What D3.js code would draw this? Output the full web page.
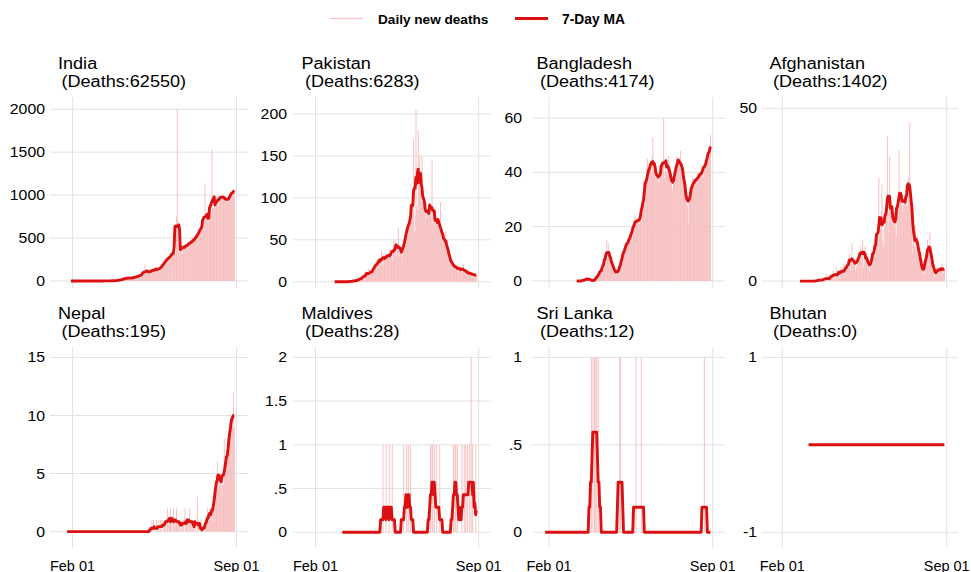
<!DOCTYPE html>
<html>
<head>
<meta charset="utf-8">
<script src="https://cdn.jsdelivr.net/npm/d3@7"></script>
<style>
  body { margin: 0; background: #fff; }
  svg { font-family: "Liberation Sans", Arial, sans-serif; }
</style>
</head>
<body>
<svg id="chart" width="971" height="572"></svg>
<script>
// ---- data ----
var countries = ["India", "Pakistan", "Bangladesh", "Afghanistan", "Nepal", "Maldives", "Sri Lanka", "Bhutan"];
var totalDeaths = [62550, 6283, 4174, 1402, 195, 28, 12, 0];
var firstDays = ["2020-01-30", "2020-02-26", "2020-03-08", "2020-02-24", "2020-01-25", "2020-03-07", "2020-01-27", "2020-03-06"];
var lastDay = "2020-08-29";
var xTicks = ["2020-02-01", "2020-09-01"];

// daily new deaths, one value per day from the country's first day
var indiaDaily = [
  0,0,0,0,0,0,0,0,0,0, 0,0,0,0,0,0,0,0,0,0, 0,0,0,0,0,0,0,0,0,0, 0,0,0,0,0,0,0,0,0,0, 0,
  0,1,1,0,0,0,1, 0,1,1,0,3,2,1, 2,3,4,2,4,2,9, 5,12,14,10,13,19,15,
  20,30,33,40,30,35,30, 38,28,35,37,31,36,50, 44,49,37,56,46,60,58, 73,67,77,72,79,83,195,
  126,90,103,95,111,97,122, 136,100,104,120,157,120,134, 140,132,148,142,119,154,146,
  170,180,200,210,220,225,230, 260,270,275,290,280,265,300, 320,350,380,330,310,750,2003,
  340,370,330,380,400,420,310, 420,400,410,380,420,410,420, 440,420,460,480,430,460,470,
  480,490,510,520,550,500,560, 600,590,610,680,660,600,680, 1130,720,740,700,690,700,760,
  780,800,1530,860,850,880,900, 910,930,880,1000,950,980,960, 940,1000,990,1010,960,980,940,
  900,930,950,980,1000,960,1000, 1030,1060,1070,1050
];
var pakistanDaily = [
  0,0,0,0,0,0,0,0,0,0, 0,0,0,0,0,0,0,0,0,0, 0,
  1,1,0,1,0,1,3, 0,2,1,3,0,5,3, 6,5,3,2,11,8,11, 6,9,15,11,7,10,12,
  11,15,17,13,22,19,27, 19,24,20,24,28,37,18, 34,22,29,33,28,29,30, 32,28,38,35,29,24,40,
  50,39,36,42,31,46,64, 30,38,42,33,28,35,40, 48,55,60,58,62,70,65, 75,80,72,85,90,170,60,
  80,205,90,85,180,120,150, 110,95,150,100,90,85,80, 95,75,85,80,85,90,80, 75,145,70,80,75,70,80,
  72,68,75,70,60,95,50, 58,45,55,50,45,60,40, 50,35,30,28,25,28,20, 22,18,20,16,18,15,20,
  16,14,12,18,15,14,12, 20,13,15,11,12,10,9, 11,13,8,10,9,10,7, 8,9,8,7
];
var bangladeshDaily = [
  0,0,0,0,0,0,0, 0,0,0,1,0,1,0, 1,1,1,0,1,0,0, 0,0,0,1,0,1,2, 3,3,1,5,3,6,4,
  4,10,7,9,15,8,14, 10,9,9,8,6,5,4, 5,3,4,2,3,2,5, 4,6,8,9,8,11,12, 14,11,13,15,14,16,15,
  16,18,16,21,20,21,24, 21,22,23,22,21,23,24, 22,25,30,37,28,35,32, 42,45,37,42,38,44,40,
  46,53,42,40,43,38,41, 37,39,36,38,39,40,43, 42,60,38,42,40,40,44, 46,44,42,38,36,33,34,
  36,38,40,42,46,43,44, 44,45,48,40,41,42,40, 38,35,32,30,28,21,30, 33,32,35,34,38,36,35,
  37,38,36,40,37,39,38, 39,41,40,42,38,43,44, 45,42,44,46,48,50,54
];
var afghanistanDaily = [
  0,0,0,0,0,0,0,0,0,0, 0,0,0,0,0,0,0,0,0,0, 0,
  0,0,0,1,0,0,1, 0,0,0,1,0,1,2, 0,1,0,1,0,2,1, 2,3,1,2,0,4,1, 2,3,1,3,4,2,3,
  2,5,1,4,3,6,5, 4,8,3,6,11,4,7, 6,5,3,4,7,5,8, 7,10,6,9,12,4,8, 10,7,8,6,4,5,3,
  6,4,5,7,9,11,13, 7,10,14,9,30,13,15, 20,28,12,10,16,15,20, 18,42,14,20,36,22,17,
  21,18,17,20,15,17,13, 20,25,38,22,24,26,23, 20,22,25,24,21,26,22, 30,24,46,28,20,22,8,
  14,10,16,12,9,13,11, 10,8,6,4,3,2,3, 2,4,6,9,12,8,10, 14,6,10,8,3,2,1, 3,2,4,3,2,4,3,
  4,3,5,2,4,3
];
var nepalDaily = [
  0,0,0,0,0,0,0,0,0,0, 0,0,0,0,0,0,0,0,0,0, 0,0,0,0,0,0,0,0,0,0, 0,0,0,0,0,0,0,0,0,0,
  0,0,0,0,0,0,0,0,0,0, 0,0,0,0,0,0,0,0,0,0, 0,0,0,0,0,0,0,0,0,0, 0,0,0,0,0,0,0,0,0,0,
  0,0,0,0,0,0,0,0,0,0, 0,0,0,0,0,0,0,0,0,0, 0,0,0,0,0,0,0,
  0,0,0,1,0,1,0, 0,0,1,0,0,1,0, 1,0,1,0,0,1,1, 1,0,2,1,0,1,2, 1,1,0,2,1,0,1,
  2,1,0,1,1,0,1, 1,0,1,0,2,0,1, 1,1,0,2,1,1,0, 1,1,0,1,0,0,3, 0,1,0,0,1,0,0,
  0,0,1,0,1,2,1, 1,2,1,2,2,1,2, 3,2,4,5,6,5,5, 4,5,4,3,5,4,8, 5,5,6,6,8,7,9,
  9,10,10,9,12,9
];
// small counts: the dates of each death
var maldivesDeathDates = [
  "2020-04-29", "2020-05-03", "2020-05-07", "2020-05-11", "2020-05-26", "2020-05-30", "2020-06-01",
  "2020-06-04", "2020-06-30", "2020-07-02", "2020-07-03", "2020-07-05", "2020-07-08", "2020-07-12",
  "2020-07-30", "2020-08-01", "2020-08-02", "2020-08-04", "2020-08-10", "2020-08-13", "2020-08-15",
  "2020-08-17", "2020-08-20", "2020-08-22", "2020-08-22", "2020-08-24", "2020-08-28"
];
var sriLankaDeathDates = [
  "2020-03-27", "2020-03-29", "2020-03-31", "2020-04-01", "2020-04-03", "2020-04-05",
  "2020-05-03", "2020-05-04", "2020-05-24", "2020-05-31", "2020-08-21"
];
var bhutanDeathDates = [];

var yTicks = [
  [0, 500, 1000, 1500, 2000], [0, 50, 100, 150, 200], [0, 20, 40, 60], [0, 50],
  [0, 5, 10, 15], [0, 0.5, 1, 1.5, 2], [0, 0.5, 1], [-1, 1]
];

// ---- layout ----
var cols = [
  { left: 50,    right: 248, feb: 72.5,  sep: 236.5, labelX: 45,  titleX: 58 },
  { left: 293,   right: 491, feb: 315.5, sep: 478.7, labelX: 287, titleX: 301.5 },
  { left: 532,   right: 725, feb: 549,   sep: 712.7, labelX: 522, titleX: 536.5 },
  { left: 761.5, right: 958, feb: 782.3, sep: 946.7, labelX: 757, titleX: 769.5 }
];
var rows = [
  { top: 97,  bottom: 288, title: 69 },
  { top: 347, bottom: 548, title: 319 }
];
var yDomains = [
  [-82, 2143], [-7.5, 220.3], [-2.6, 67.8], [-2.0, 53.3],
  [-1.41, 15.9], [-0.18, 2.118], [-0.09, 1.059], [-1.18, 1.118]
];
var stretch = 1.13;   // the picture's text is a bit wider than plain Arial
var barColor = "#f7bfbf", lineColor = "#dc1010", gridColor = "#e2e2e2", textColor = "#000";

var parse = d3.timeParse("%Y-%m-%d");
var fmtDay = d3.timeFormat("%Y-%m-%d");

function fromDaily(start, values) {
  return values.map(function (v, i) {
    return { date: d3.timeDay.offset(parse(start), i), value: v };
  });
}
function fromDeathDates(start, dates) {
  var counts = d3.rollup(dates, function (v) { return v.length; }, function (d) { return d; });
  return d3.timeDay.range(parse(start), d3.timeDay.offset(parse(lastDay), 1)).map(function (d) {
    return { date: d, value: counts.get(fmtDay(d)) || 0 };
  });
}
// centred 7-day mean, shorter window at the ends
function movingAverage(series, k) {
  return series.map(function (d, i) {
    var w = series.slice(Math.max(0, i - k), i + k + 1);
    return { date: d.date, value: d3.mean(w, function (e) { return e.value; }) };
  });
}

var dailySeries = [
  fromDaily(firstDays[0], indiaDaily),
  fromDaily(firstDays[1], pakistanDaily),
  fromDaily(firstDays[2], bangladeshDaily),
  fromDaily(firstDays[3], afghanistanDaily),
  fromDaily(firstDays[4], nepalDaily),
  fromDeathDates(firstDays[5], maldivesDeathDates),
  fromDeathDates(firstDays[6], sriLankaDeathDates),
  fromDeathDates(firstDays[7], bhutanDeathDates)
];

var svg = d3.select("#chart");

function addText(g, x, y, str, size, anchor, weight, sx) {
  return g.append("text")
    .attr("transform", "translate(" + x + "," + y + ") scale(" + (sx || stretch) + ",1)")
    .attr("text-anchor", anchor || "start")
    .attr("font-size", size)
    .attr("font-weight", weight || "normal")
    .attr("fill", textColor)
    .text(str);
}

function tickLabel(v) {
  return String(v).replace(/^0\./, ".");
}

countries.forEach(function (name, i) {
  var col = cols[i % 4], row = rows[Math.floor(i / 4)];
  var g = svg.append("g").attr("class", "panel");

  var x = d3.scaleTime()
    .domain([parse(xTicks[0]), parse(xTicks[1])])
    .range([col.feb, col.sep]);
  var y = d3.scaleLinear().domain(yDomains[i]).range([row.bottom, row.top]);

  // grid
  g.selectAll("line.hgrid").data(yTicks[i]).enter().append("line")
    .attr("class", "hgrid")
    .attr("x1", col.left).attr("x2", col.right)
    .attr("y1", function (d) { return y(d); }).attr("y2", function (d) { return y(d); })
    .attr("stroke", gridColor).attr("stroke-width", 1);
  g.selectAll("line.vgrid").data(xTicks).enter().append("line")
    .attr("class", "vgrid")
    .attr("x1", function (d) { return x(parse(d)); }).attr("x2", function (d) { return x(parse(d)); })
    .attr("y1", row.top).attr("y2", row.bottom)
    .attr("stroke", gridColor).attr("stroke-width", 1);

  // y tick labels
  yTicks[i].forEach(function (v) {
    addText(g, col.labelX, y(v) + 5, tickLabel(v), 14, "end");
  });

  // x tick labels on the bottom row only
  if (row === rows[1]) {
    xTicks.forEach(function (d) {
      addText(g, x(parse(d)), 570.5, d3.timeFormat("%b %d")(parse(d)), 14.5, "middle", "normal", 1.0);
    });
  }

  // title
  addText(g, col.titleX, row.title, name, 16);
  addText(g, col.titleX + 3.5, row.title + 17.5, "(Deaths:" + totalDeaths[i] + ")", 16);

  // daily bars
  var data = dailySeries[i];
  var dayW = x(d3.timeDay.offset(parse(xTicks[0]), 1)) - x(parse(xTicks[0]));
  g.selectAll("rect.bar").data(data.filter(function (d) { return d.value > 0; })).enter().append("rect")
    .attr("class", "bar")
    .attr("x", function (d) { return x(d.date) - dayW / 2; })
    .attr("width", dayW + 0.2)
    .attr("y", function (d) { return y(d.value); })
    .attr("height", function (d) { return y(0) - y(d.value); })
    .attr("fill", barColor);

  // 7-day moving average
  var line = d3.line()
    .x(function (d) { return x(d.date); })
    .y(function (d) { return y(d.value); });
  g.append("path")
    .datum(movingAverage(data, 3))
    .attr("d", line)
    .attr("fill", "none")
    .attr("stroke", lineColor)
    .attr("stroke-width", 2.9)
    .attr("stroke-linejoin", "round");
});

// legend
var legend = svg.append("g").attr("id", "legend");
legend.append("line").attr("x1", 330).attr("x2", 363).attr("y1", 18.5).attr("y2", 18.5)
  .attr("stroke", "#f6c9cc").attr("stroke-width", 1.5);
addText(legend, 378, 24, "Daily new deaths", 13.6, "start", "bold", 1.0);
legend.append("line").attr("x1", 515).attr("x2", 548).attr("y1", 18.5).attr("y2", 18.5)
  .attr("stroke", lineColor).attr("stroke-width", 3);
addText(legend, 562, 24, "7-Day MA", 13.8, "start", "bold", 1.0);
</script>
</body>
</html>
